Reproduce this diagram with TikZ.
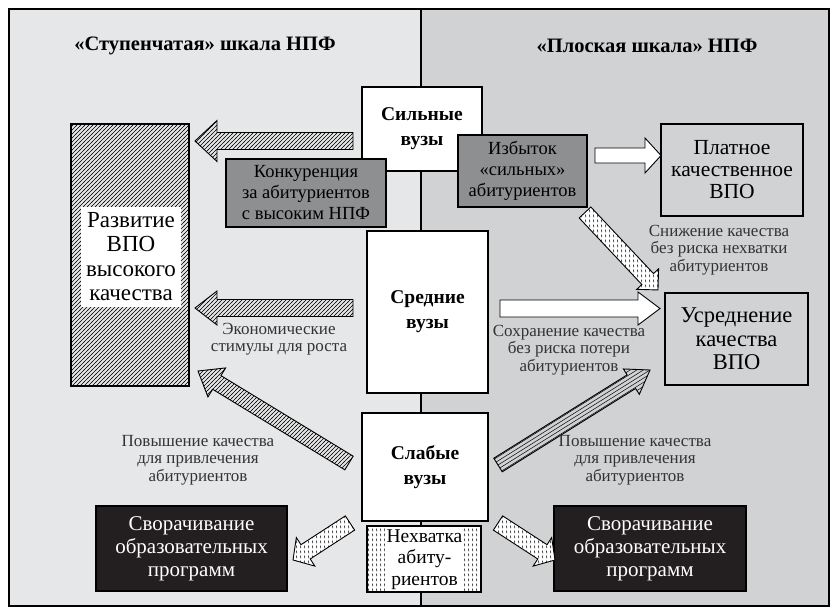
\documentclass[tikz,border=0pt]{standalone}
\usepackage{fontspec}
\setmainfont{Liberation Serif}
\usetikzlibrary{patterns,calc}

\definecolor{bgL}{HTML}{E6E7E8}
\definecolor{bgR}{HTML}{D1D2D4}
\definecolor{dbox}{HTML}{8E8F91}
\definecolor{blk}{HTML}{231F20}

\pgfdeclarepatternformonly{hatchne}{\pgfqpoint{-1pt}{-1pt}}{\pgfqpoint{5pt}{5pt}}{\pgfqpoint{4pt}{4pt}}{%
  \pgfsetlinewidth{0.45pt}\pgfpathmoveto{\pgfqpoint{-0.5pt}{-0.5pt}}\pgfpathlineto{\pgfqpoint{4.5pt}{4.5pt}}\pgfusepath{stroke}}
\pgfdeclarepatternformonly{dashpat}{\pgfqpoint{0pt}{0pt}}{\pgfqpoint{3.6pt}{4.6pt}}{\pgfqpoint{3.6pt}{4.6pt}}{%
  \pgfsetlinewidth{0.6pt}\pgfpathmoveto{\pgfqpoint{2.1pt}{0.8pt}}\pgfpathlineto{\pgfqpoint{1.6pt}{3.6pt}}\pgfusepath{stroke}}

\newcommand{\getarr}[2]{%
  \path let \p1=(#1), \p2=(#2) in \pgfextra{%
    \pgfmathsetmacro\tmpa{atan2(\y2-\y1,\x2-\x1)}%
    \pgfmathsetmacro\tmpb{veclen(\x2-\x1,\y2-\y1)}%
    \global\let\arrang\tmpa\global\let\arrlen\tmpb};}
\newcommand{\arrpath}[3]{(0,-#1) -- ({\arrlen-#3},-#1) -- ({\arrlen-#3},-#2) -- (\arrlen,0) -- ({\arrlen-#3},#2) -- ({\arrlen-#3},#1) -- (0,#1) -- cycle}
\newcommand{\blockarr}[6]{%
  \getarr{#2}{#3}%
  \begin{scope}[shift={(#2)}, rotate=\arrang]
    \path[#1] \arrpath{#4}{#5}{#6};
  \end{scope}}
\newcommand{\linearr}[5]{%
  \getarr{#1}{#2}%
  \begin{scope}[shift={(#1)}, rotate=\arrang]
    \fill[bgR] \arrpath{#3}{#4}{#5};
    \begin{scope}
      \clip \arrpath{#3}{#4}{#5};
      \foreach \k in {-14,-10.5,...,14} \draw[line width=0.5pt] (0,\k) -- (\arrlen,\k);
    \end{scope}
    \draw[line width=0.9pt, line join=miter] \arrpath{#3}{#4}{#5};
  \end{scope}}

\begin{document}
\begin{tikzpicture}[x=1pt,y=-1pt,
  box/.style={draw, line width=1.2pt, align=center, inner sep=0pt, font=\fontsize{18.5}{21}\selectfont},
  bbox/.style={box, fill=white, font=\fontsize{19.5}{25}\selectfont\bfseries},
  gbox/.style={box, fill=dbox},
  kbox/.style={box, fill=blk, text=white, font=\fontsize{21}{23}\selectfont},
  lbl/.style={align=center, text=black!80, font=\fontsize{17}{17.5}\selectfont, inner sep=0pt},
  ttl/.style={font=\fontsize{20.5}{24}\selectfont\bfseries},
  hatcharr/.style={draw, line width=0.9pt, pattern=hatchne},
  whitearr/.style={draw, line width=0.9pt, fill=white},
  dasharr/.style={draw, line width=0.9pt, preaction={fill=white}, pattern=dashpat}]
\useasboundingbox (0,0) rectangle (830,610);
\fill[white] (0,0) rectangle (830,610);
\fill[bgL] (9,9) rectangle (421,606);
\fill[bgR] (421,9) rectangle (829,606);
\coordinate (dtop) at (421,9);
\coordinate (dbot) at (421,606);
\draw[line width=1.5pt] (dtop) -- (dbot);
\draw[line width=2pt] (9,9) rectangle (829,606);

% titles
\node[ttl] (t1) at (205,46) {«Ступенчатая» шкала НПФ};
\node[ttl] (t2) at (647,46) {«Плоская шкала» НПФ};

% arrow end points
\coordinate (a1t) at (353,141); \coordinate (a1h) at (195,141);
\coordinate (a2t) at (353,308); \coordinate (a2h) at (195,308);
\coordinate (a3t) at (595,155.5); \coordinate (a3h) at (661,155.5);
\coordinate (a4t) at (500,308.5); \coordinate (a4h) at (660,308.5);
\coordinate (a5t) at (585,212.5); \coordinate (a5h) at (658,290);
\coordinate (a6t) at (349,463); \coordinate (a6h) at (198,371);
\coordinate (a7t) at (498,465); \coordinate (a7h) at (650,370);
\coordinate (a8t) at (350,523); \coordinate (a8h) at (293,560);
\coordinate (a9t) at (498,523); \coordinate (a9h) at (555,560);

% boxes
\node[box, pattern=hatchne, minimum width=118, minimum height=262] (razv) at (130,255) {};
\node[fill=white, minimum width=100, minimum height=100, inner sep=0pt, align=center,
      font=\fontsize{23}{24.3}\selectfont] (razvtxt) at (131,256.5) {Развитие\\ВПО\\высокого\\качества};
\node[bbox, minimum width=120, minimum height=84] (strong) at (422,129) {Сильные\\вузы};
\node[gbox, minimum width=160, minimum height=68] (konk) at (306,193) {Конкуренция\\за абитуриентов\\с высоким НПФ};
\node[gbox, minimum width=129, minimum height=72] (izb) at (522.5,171) {Избыток\\«сильных»\\абитуриентов};
\node[box, fill=bgR, minimum width=142, minimum height=92, font=\fontsize{21.5}{22}\selectfont] (plat) at (732,170) {Платное\\качественное\\ВПО};
\node[bbox, minimum width=121, minimum height=162] (mid) at (427.5,312) {Средние\\вузы};
\node[box, fill=bgR, minimum width=143, minimum height=92, font=\fontsize{22.5}{23.5}\selectfont] (usr) at (736.5,339) {Усреднение\\качества\\ВПО};
\node[bbox, minimum width=126, minimum height=108] (weak) at (425,467) {Слабые\\вузы};
\node[box, preaction={fill=white}, pattern=dashpat, minimum width=114, minimum height=66] (nekh) at (424,559) {};
\node[fill=white, minimum width=79, minimum height=63, inner sep=0pt, align=center,
      font=\fontsize{19.5}{21.5}\selectfont] (nekhtxt) at (424.5,559.5) {Нехватка\\абиту-\\риентов};
\node[kbox, minimum width=191, minimum height=85] (svL) at (191.5,548.5) {Сворачивание\\образовательных\\программ};
\node[kbox, minimum width=192, minimum height=85] (svR) at (650,548.5) {Сворачивание\\образовательных\\программ};

% block arrows
\blockarr{hatcharr}{a1t}{a1h}{8.5}{20.5}{22}
\blockarr{hatcharr}{a2t}{a2h}{8.5}{17}{22}
\blockarr{whitearr}{a3t}{a3h}{7.5}{17.5}{16}
\blockarr{whitearr}{a4t}{a4h}{8.5}{16.5}{22}
\blockarr{dasharr}{a5t}{a5h}{8}{15}{15}
\blockarr{hatcharr}{a6t}{a6h}{8}{17}{22}
\linearr{a7t}{a7h}{8}{15}{22}
\blockarr{dasharr}{a8t}{a8h}{8.5}{17}{15}
\blockarr{dasharr}{a9t}{a9h}{8.5}{17}{15}

% labels
\node[lbl] (lE) at (279,339) {Экономические\\стимулы для роста};
\node[lbl] (lS) at (719,250) {Снижение качества\\без риска нехватки\\абитуриентов};
\node[lbl] (lC) at (569,350) {Сохранение качества\\без риска потери\\абитуриентов};
\node[lbl] (lPL) at (198,460) {Повышение качества\\для привлечения\\абитуриентов};
\node[lbl] (lPR) at (635,460) {Повышение качества\\для привлечения\\абитуриентов};
\end{tikzpicture}
\end{document}
